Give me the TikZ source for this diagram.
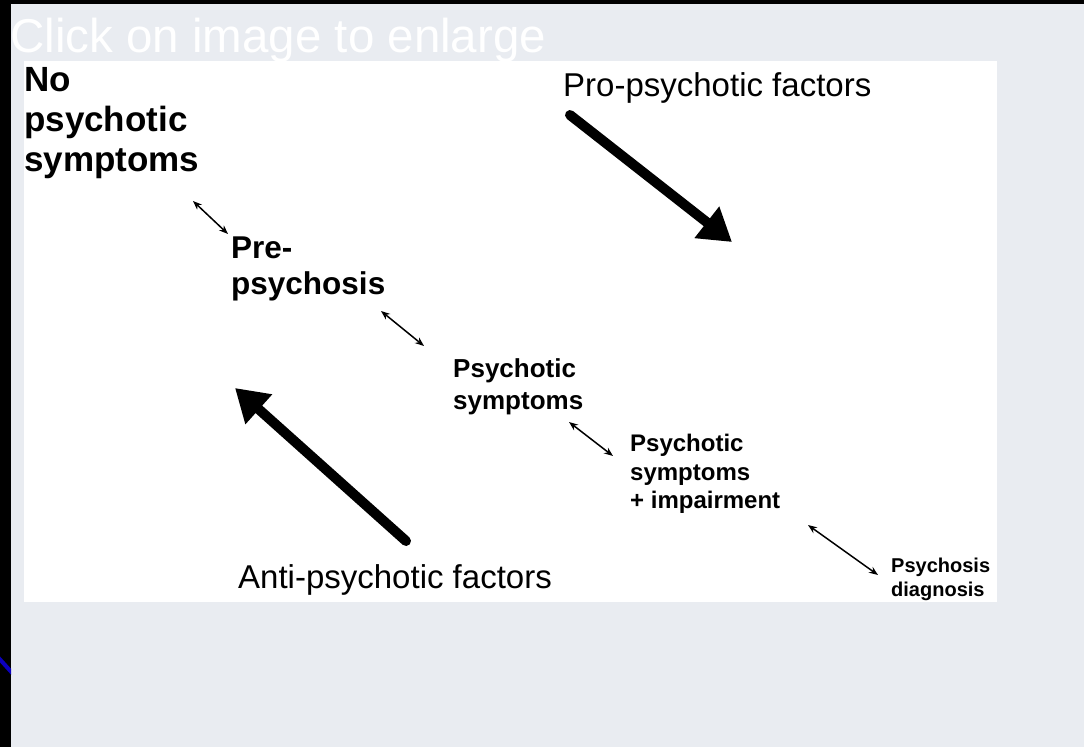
\documentclass[tikz,border=0pt]{standalone}
\usepackage{fontspec}
\setmainfont{Liberation Sans}
\usetikzlibrary{arrows.meta}
\definecolor{pagebg}{RGB}{233,236,241}
\definecolor{linkblue}{RGB}{12,0,190}

\begin{document}
\begin{tikzpicture}[x=1pt,y=-1pt,
  stage/.style={anchor=north west,inner sep=0pt,align=left},
  factor/.style={anchor=north west,inner sep=0pt,font=\fontsize{33}{40}\selectfont},
  bigarrow/.style={line width=10pt,line cap=round,-{Triangle[length=32pt,width=38pt]}},
  dblarrow/.style={line width=1.5pt,{Stealth[length=9pt,width=7pt]}-{Stealth[length=9pt,width=7pt]}}]
\useasboundingbox (0,0) rectangle (1084,747);
% page frame
\fill[pagebg] (0,0) rectangle (1084,747);
\fill[black] (0,0) rectangle (11,747);
\fill[black] (0,0) rectangle (1084,4);
\begin{scope}
\clip (0,640) rectangle (11,690);
\draw[linkblue,line width=4pt] (-4,655) -- (14,675);
\end{scope}
\fill[white] (24,61) rectangle (997,602);
\node[anchor=north west,inner sep=0pt,text=white,font=\fontsize{47.5}{57}\selectfont] (click) at (10,18) {Click on image to enlarge};

% stages
\node[stage,font=\bfseries\fontsize{35}{40}\selectfont] (nopsy) at (24,67) {No\\psychotic\\symptoms};
\node[stage,font=\bfseries\fontsize{31.5}{36}\selectfont] (prepsy) at (231,237) {Pre-\\psychosis};
\node[stage,font=\bfseries\fontsize{26}{32}\selectfont] (psysym) at (453,358) {Psychotic\\symptoms};
\node[stage,font=\bfseries\fontsize{24}{28.5}\selectfont] (psyimp) at (630,434) {Psychotic\\symptoms\\+ impairment};
\node[stage,font=\bfseries\fontsize{20}{24}\selectfont] (psydiag) at (891,558) {Psychosis\\diagnosis};

% factors
\node[factor] (pro) at (563,72) {Pro-psychotic factors};
\node[factor] (anti) at (238,564) {Anti-psychotic factors};

% arrow ends
\coordinate (proS) at (570,115);
\coordinate (proE) at (732,242);
\coordinate (antiS) at (406,541);
\coordinate (antiE) at (235,388);
\coordinate (d1a) at (193,201);
\coordinate (d1b) at (228,234);
\coordinate (d2a) at (381,311);
\coordinate (d2b) at (424,346);
\coordinate (d3a) at (569,422);
\coordinate (d3b) at (613,456);
\coordinate (d4a) at (808,525);
\coordinate (d4b) at (878,575);

\draw[bigarrow] (proS) -- (proE);
\draw[bigarrow] (antiS) -- (antiE);
\draw[dblarrow] (d1a) -- (d1b);
\draw[dblarrow] (d2a) -- (d2b);
\draw[dblarrow] (d3a) -- (d3b);
\draw[dblarrow] (d4a) -- (d4b);
\end{tikzpicture}
\end{document}
